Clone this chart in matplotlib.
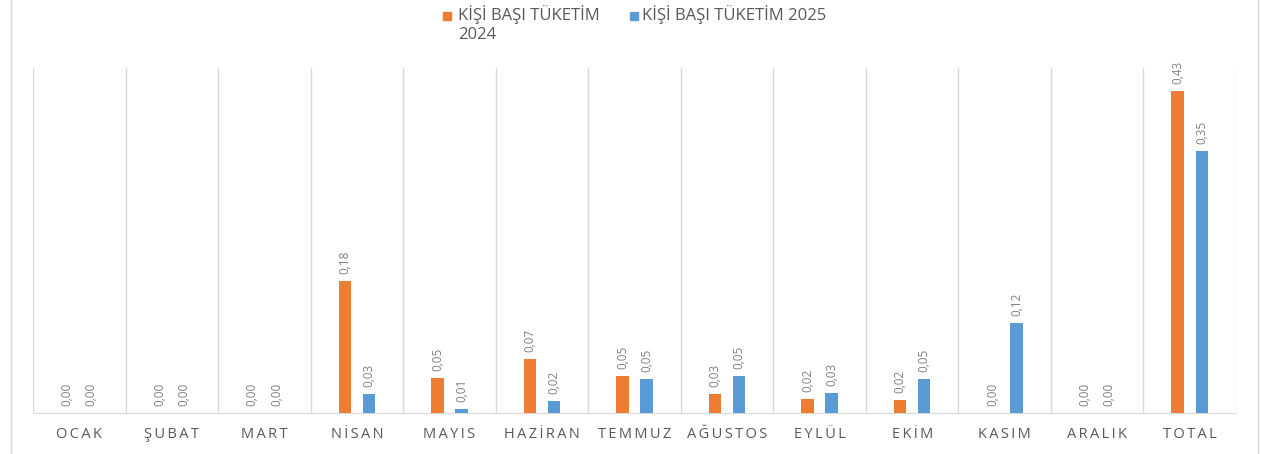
import matplotlib.pyplot as plt
import matplotlib.patches as mpatches
from matplotlib.lines import Line2D
import numpy as np

months = ["OCAK", "ŞUBAT", "MART", "NİSAN", "MAYIS", "HAZİRAN", "TEMMUZ",
          "AĞUSTOS", "EYLÜL", "EKİM", "KASIM", "ARALIK", "TOTAL"]
kisi_2024 = [0.00, 0.00, 0.00, 0.176, 0.047, 0.072, 0.049, 0.026, 0.019, 0.017, 0.00, 0.00, 0.43]
kisi_2025 = [0.00, 0.00, 0.00, 0.026, 0.006, 0.016, 0.046, 0.049, 0.027, 0.046, 0.12, 0.00, 0.35]
legend_labels = ["KİŞİ BAŞI TÜKETİM\n2024", "KİŞİ BAŞI TÜKETİM 2025"]

ORANGE = "#ED7D31"
BLUE = "#5B9BD5"
GRID = "#D9D9D9"
TXT = "#595959"
LBL = "#808080"

plt.rcParams['font.family'] = ['Open Sans', 'DejaVu Sans']

fig = plt.figure(figsize=(12.61, 4.54), dpi=100)
ax = fig.add_axes([0.0262, 0.0903, 0.9540, 0.7597])

x = np.arange(len(months))
w = 0.135
off = 0.13
ax.bar(x - off, kisi_2024, w, color=ORANGE, zorder=3)
ax.bar(x + off, kisi_2025, w, color=BLUE, zorder=3)

def fmt(v):
    return f"{v:.2f}".replace(".", ",")

for xi, v in zip(x - off, kisi_2024):
    ax.annotate(fmt(v), (xi, v), xytext=(0, 5), textcoords="offset points",
                rotation=90, ha="center", va="bottom", fontsize=8.5, color=LBL)
for xi, v in zip(x + off, kisi_2025):
    ax.annotate(fmt(v), (xi, v), xytext=(0, 5), textcoords="offset points",
                rotation=90, ha="center", va="bottom", fontsize=8.5, color=LBL)

ax.set_xlim(-0.5, len(months) - 0.5)
ax.set_ylim(0, 0.46)

# category separators
for b in np.arange(-0.5, len(months) + 0.5, 1):
    ax.axvline(b, color=GRID, lw=1, zorder=1)

for s in ["top", "left", "right"]:
    ax.spines[s].set_visible(False)
ax.spines["bottom"].set_color(GRID)
ax.set_yticks([])
ax.set_xticks(x)
spaced = ["\u2009".join(m) for m in months]
ax.set_xticklabels(spaced, fontsize=10.5, color=TXT)
ax.tick_params(axis="x", length=0, pad=10)

# chart frame edges
fig.add_artist(Line2D([11 / 1261, 11 / 1261], [0, 1], color=GRID, lw=1))
fig.add_artist(Line2D([1258 / 1261, 1258 / 1261], [0, 1], color=GRID, lw=1))

# legend
fig.add_artist(mpatches.Rectangle((443 / 1261, 1 - 20 / 454), 8 / 1261, 8 / 454,
                                  color=ORANGE, transform=fig.transFigure))
fig.text(458 / 1261, 1 - 5 / 454, legend_labels[0], fontsize=12, color=TXT,
         va="top", ha="left", linespacing=1.25, transform=fig.transFigure)
fig.add_artist(mpatches.Rectangle((630 / 1261, 1 - 20 / 454), 8 / 1261, 8 / 454,
                                  color=BLUE, transform=fig.transFigure))
fig.text(642 / 1261, 1 - 5 / 454, legend_labels[1], fontsize=12, color=TXT,
         va="top", ha="left", transform=fig.transFigure)

fig.savefig("out.png", dpi=100, facecolor="white")
